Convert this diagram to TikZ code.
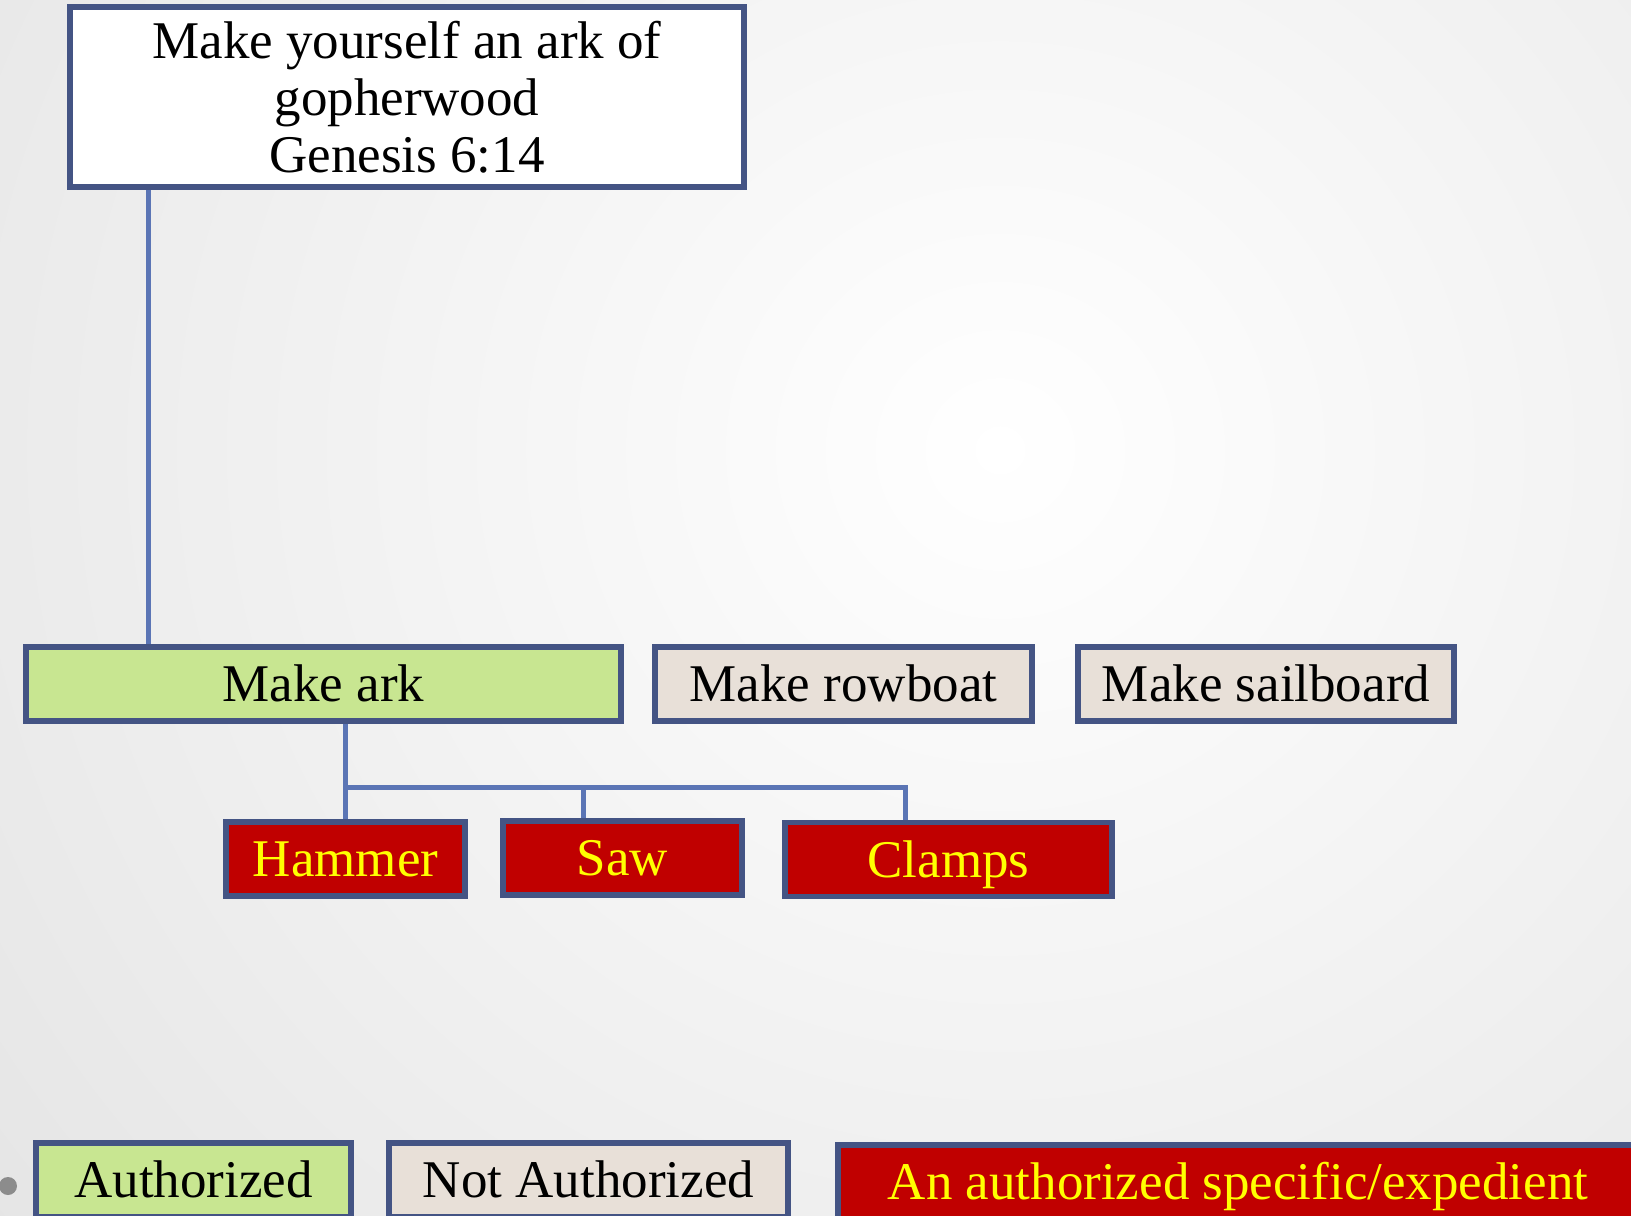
\documentclass[tikz,border=0pt]{standalone}
\usepackage{fontspec}
\setmainfont{Liberation Serif}
\usetikzlibrary{calc}

\definecolor{boxline}{RGB}{68,84,132}
\definecolor{linkblue}{RGB}{91,117,181}
\definecolor{okgreen}{RGB}{200,230,145}
\definecolor{notbeige}{RGB}{232,224,216}
\definecolor{toolred}{RGB}{192,0,0}
\definecolor{toolyellow}{RGB}{255,255,0}

\begin{document}
\begin{tikzpicture}[x=0.5pt,y=-0.5pt,line width=2.4pt,
box/.style={draw=boxline, line width=2.8pt, inner sep=0pt,
  minimum height=37pt, text height=17.5pt, text depth=0pt,
  font=\fontsize{26.5}{28.5}\selectfont},
okbox/.style={box, fill=okgreen},
nobox/.style={box, fill=notbeige},
toolbox/.style={box, fill=toolred, text=toolyellow}]

\path[use as bounding box, clip] (0,0) rectangle (1631,1215);
\shade[inner color=white, outer color=black!11] (-400,-900) rectangle (2400,1800);

% command
\node[draw=boxline, line width=2.8pt, fill=white, minimum width=337pt,
  minimum height=90pt, inner sep=0pt, align=center,
  font=\fontsize{26.5}{28.5}\selectfont] (verse) at (407,97)
  {Make yourself an ark of\\gopherwood\\Genesis 6:14};

% choices
\node[okbox, minimum width=297.5pt] (ark) at (323.5,684) {Make ark};
\node[nobox, minimum width=188.5pt] (rowboat) at (843.5,684) {Make rowboat};
\node[nobox, minimum width=188pt] (sailboard) at (1266,684) {Make sailboard};

% expedients
\node[toolbox, minimum width=119.5pt] (hammer) at (345.5,859) {Hammer};
\node[toolbox, minimum width=119.5pt] (saw) at (622.5,858) {Saw};
\node[toolbox, minimum width=163.5pt] (clamps) at (948.5,859.5) {Clamps};

% key
\fill[black!45] (8,1186) circle[radius=4.5pt];
\node[okbox, minimum width=157.5pt] (keyok) at (193.5,1180) {Authorized};
\node[nobox, minimum width=199.5pt] (keyno) at (588.5,1180) {Not Authorized};
\node[toolbox, minimum width=400pt] (keytool) at (1238,1182) {An authorized specific/expedient};

% links
\coordinate (v) at ($(verse.south west)!0.12!(verse.south east)$);
\coordinate (bus) at ($(ark.south)!0.67!(hammer.north)$);
\coordinate (s) at ($(saw.north west)!0.34!(saw.north east)$);
\coordinate (c) at ($(clamps.north west)!0.37!(clamps.north east)$);

\draw[linkblue] (v) -- (v |- ark.north);
\draw[linkblue] (hammer.north |- ark.south) -- (hammer.north);
\draw[linkblue] (hammer.north |- bus) -- (c |- bus) -- (c);
\draw[linkblue] (s |- bus) -- (s);

\end{tikzpicture}
\end{document}
